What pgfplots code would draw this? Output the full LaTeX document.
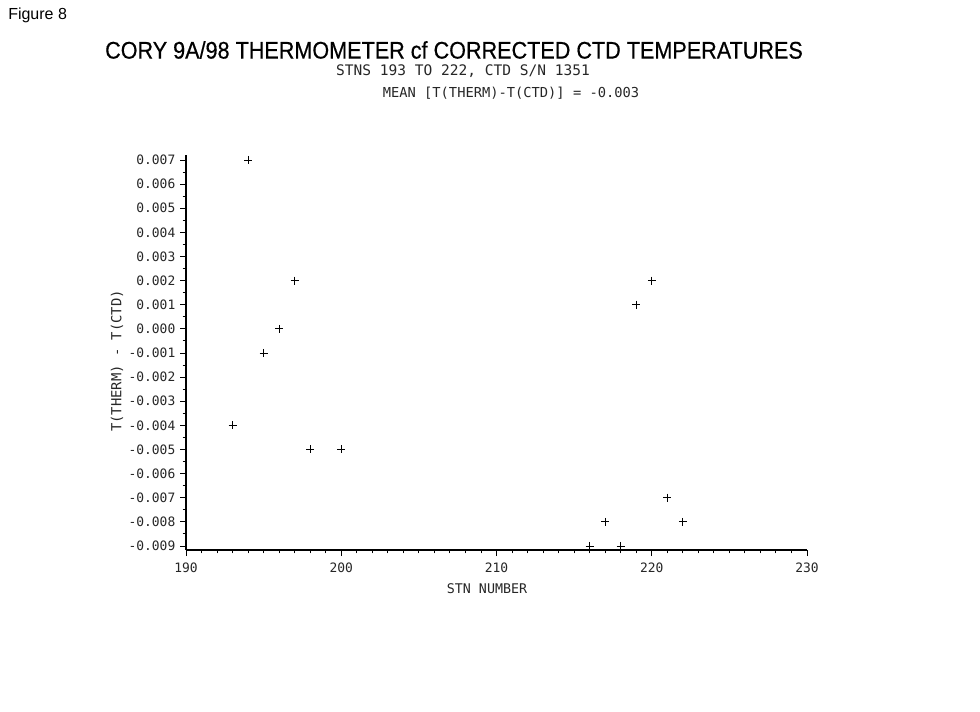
\documentclass[border=0pt]{standalone}
\usepackage{pgfplots}
\pgfplotsset{compat=1.18}
\usepackage{fontspec}
\setmainfont{Liberation Sans}
\newfontfamily\titlefont[FakeStretch=0.9, FakeBold=0.5]{Liberation Sans}
\newfontfamily\plotfont{DejaVu Sans Mono}
\begin{document}
\begin{tikzpicture}[x=0.75pt,y=0.75pt]
\useasboundingbox (0,0) rectangle (980,711);
\node[anchor=west, font=\fontsize{12}{14}\selectfont, inner sep=0pt] at (8,696) {Figure 8};
\node[font=\titlefont\fontsize{18}{20}\selectfont, inner sep=0pt] at (454,661) {CORY 9A/98 THERMOMETER cf CORRECTED CTD TEMPERATURES};
\node[font=\plotfont\fontsize{10.9}{12}\selectfont, inner sep=0pt, text=black!85] at (463,640) {STNS 193 TO 222, CTD S/N 1351};
\node[font=\plotfont\fontsize{10.3}{12}\selectfont, inner sep=0pt, text=black!85] at (511,618) {MEAN [T(THERM)-T(CTD)] = -0.003};
\node[font=\plotfont\fontsize{10}{12}\selectfont, inner sep=0pt, text=black!85] at (487,122) {STN NUMBER};
\node[font=\plotfont\fontsize{10.4}{12}\selectfont, inner sep=0pt, rotate=90, text=black!85] at (117,350) {T(THERM) - T(CTD)};
\begin{axis}[
  at={(139.5pt,120.75pt)}, anchor=south west,
  scale only axis, width=465.75pt, height=296.25pt,
  xmin=190, xmax=230, ymin=-0.009166, ymax=0.007207,
  axis x line=bottom, axis y line=left,
  axis line style={-, line width=0.8pt},
  xtick={190,200,210,220,230},
  minor x tick num=9,
  ytick={-0.009,-0.008,-0.007,-0.006,-0.005,-0.004,-0.003,-0.002,-0.001,0,0.001,0.002,0.003,0.004,0.005,0.006,0.007},
  yticklabels={-0.009,-0.008,-0.007,-0.006,-0.005,-0.004,-0.003,-0.002,-0.001,0.000,0.001,0.002,0.003,0.004,0.005,0.006,0.007},
  minor y tick num=1,
  scaled y ticks=false,
  tick align=outside,
  major tick length=4.5pt, minor tick length=2.5pt,
  every tick/.style={black, line width=0.7pt},
  /pgf/number format/assume math mode=true,
  tick label style={font=\plotfont\fontsize{9.7}{11}\selectfont, text=black!85},
  xticklabel style={yshift=-2pt},
  clip=false,
]
\addplot[only marks, mark=+, mark size=3pt, black, mark options={line width=0.6pt}] coordinates {
 (193,-0.004) (194,0.007) (195,-0.001) (196,0.000) (197,0.002) (198,-0.005) (200,-0.005)
 (216,-0.009) (217,-0.008) (218,-0.009) (219,0.001) (220,0.002) (221,-0.007) (222,-0.008)
};
\end{axis}
\end{tikzpicture}
\end{document}
